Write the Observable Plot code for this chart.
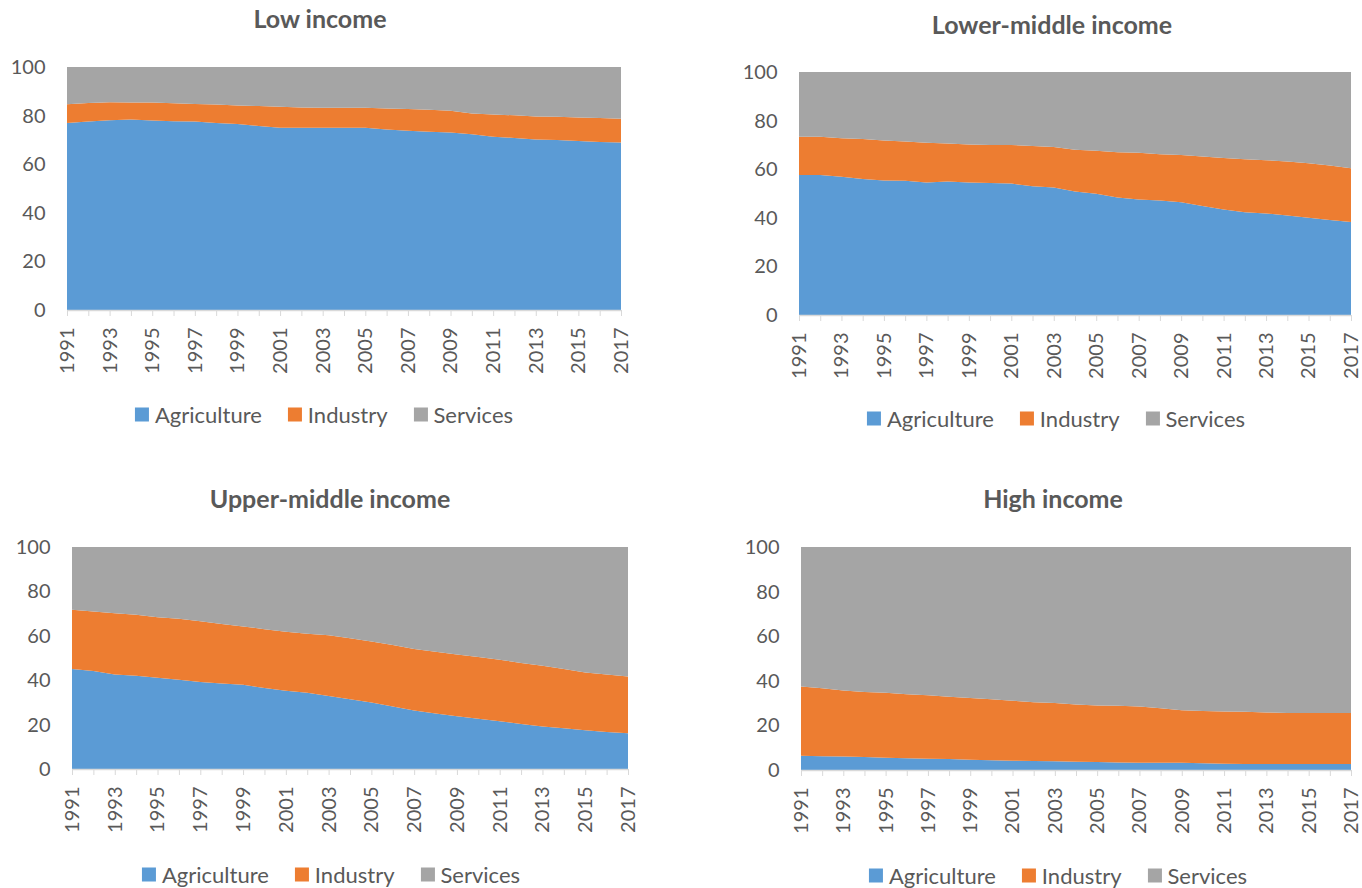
<!DOCTYPE html>
<html>
<head>
<meta charset="utf-8">
<script src="https://cdn.jsdelivr.net/npm/d3@7"></script>
<script src="https://cdn.jsdelivr.net/npm/@observablehq/plot@0.6"></script>
<style>
  html, body { margin: 0; padding: 0; background: #fff; }
  #page { position: relative; width: 1362px; height: 888px; overflow: hidden; font-family: Lato, "Open Sans", sans-serif; color: #595959; }
  .title { position: absolute; font-weight: bold; font-size: 25px; white-space: nowrap; transform: translate(-50%, -50%); }
  .legend { position: absolute; display: flex; align-items: center; gap: 26px; font-size: 22px; white-space: nowrap; transform: translate(-50%, -50%); }
  .legend .item { display: flex; align-items: center; gap: 6px; }
  .legend .sw { width: 14px; height: 14px; display: inline-block; }
  .panel { position: absolute; }
</style>
</head>
<body>
<div id="page"></div>
<script>
const years = d3.range(1991, 2018);
const labelYears = years.filter(y => (y - 1991) % 2 === 0);
const sectors = ["Agriculture", "Industry", "Services"];
const sectorColors = ["#5B9BD5", "#ED7D31", "#A5A5A5"];

const lowAgriculture = [77.0, 77.6, 78.1, 78.4, 78.0, 77.7, 77.6, 77.0, 76.5, 75.7, 75.0, 75.0, 75.0, 75.0, 75.0, 74.3, 73.8, 73.4, 73.0, 72.3, 71.3, 70.8, 70.2, 70.0, 69.5, 69.1, 68.9];
const lowIndustry = [7.7, 7.6, 7.4, 7.0, 7.4, 7.4, 7.2, 7.6, 7.7, 8.2, 8.6, 8.3, 8.2, 8.2, 8.2, 8.6, 8.9, 9.0, 9.0, 8.6, 9.2, 9.3, 9.4, 9.5, 9.7, 9.9, 9.8];
const lowServices = [15.3, 14.8, 14.5, 14.6, 14.6, 14.9, 15.2, 15.4, 15.8, 16.1, 16.4, 16.7, 16.8, 16.8, 16.8, 17.1, 17.3, 17.6, 18.0, 19.1, 19.5, 19.9, 20.4, 20.5, 20.8, 21.0, 21.3];

const lowerMidAgriculture = [57.6, 57.6, 56.9, 56.0, 55.4, 55.2, 54.5, 54.9, 54.5, 54.3, 54.1, 53.0, 52.5, 50.8, 49.9, 48.4, 47.5, 47.1, 46.4, 44.9, 43.4, 42.3, 41.8, 40.9, 40.0, 39.1, 38.3];
const lowerMidIndustry = [15.8, 15.8, 15.8, 16.4, 16.4, 16.2, 16.4, 15.7, 15.7, 15.7, 15.9, 16.5, 16.6, 17.2, 17.7, 18.6, 19.3, 19.1, 19.4, 20.3, 21.2, 21.8, 21.9, 22.3, 22.4, 22.4, 22.1];
const lowerMidServices = [26.6, 26.6, 27.3, 27.6, 28.2, 28.6, 29.1, 29.4, 29.8, 30.0, 30.0, 30.5, 30.9, 32.0, 32.4, 33.0, 33.2, 33.8, 34.2, 34.8, 35.4, 35.9, 36.3, 36.8, 37.6, 38.5, 39.6];

const upperMidAgriculture = [45.1, 44.1, 42.6, 42.0, 41.1, 40.2, 39.2, 38.5, 37.9, 36.5, 35.3, 34.3, 32.9, 31.4, 29.9, 28.1, 26.3, 25.0, 23.8, 22.6, 21.5, 20.3, 19.2, 18.3, 17.4, 16.7, 16.1];
const upperMidIndustry = [26.6, 26.9, 27.6, 27.5, 27.3, 27.5, 27.4, 26.8, 26.3, 26.5, 26.5, 26.6, 27.3, 27.5, 27.5, 27.7, 27.7, 27.8, 27.8, 27.8, 27.7, 27.5, 27.3, 26.7, 26.1, 25.9, 25.6];
const upperMidServices = [28.3, 29.0, 29.8, 30.5, 31.6, 32.3, 33.4, 34.7, 35.8, 37.0, 38.2, 39.1, 39.8, 41.1, 42.6, 44.2, 46.0, 47.2, 48.4, 49.6, 50.8, 52.2, 53.5, 55.0, 56.5, 57.4, 58.3];

const highAgriculture = [6.4, 6.2, 6.1, 5.8, 5.5, 5.3, 5.1, 4.9, 4.6, 4.4, 4.2, 4.0, 3.9, 3.7, 3.6, 3.4, 3.3, 3.3, 3.3, 3.0, 2.8, 2.7, 2.7, 2.7, 2.7, 2.7, 2.7];
const highIndustry = [31.0, 30.5, 29.5, 29.2, 29.1, 28.7, 28.4, 28.0, 27.7, 27.3, 26.9, 26.4, 26.1, 25.7, 25.3, 25.4, 25.2, 24.4, 23.5, 23.5, 23.4, 23.4, 23.1, 22.9, 22.9, 22.9, 22.9];
const highServices = [62.6, 63.3, 64.4, 65.0, 65.4, 66.0, 66.5, 67.1, 67.7, 68.3, 68.9, 69.6, 70.0, 70.6, 71.1, 71.2, 71.5, 72.3, 73.2, 73.5, 73.8, 73.9, 74.2, 74.4, 74.4, 74.4, 74.4];

const yTicks = [0, 20, 40, 60, 80, 100];

// layout (plot-area edges in page pixels)
const panels = [
  {title: "Low income", series: [lowAgriculture, lowIndustry, lowServices],
   left: 0, width: 680, x0: 67, x1: 621, y0: 67, y1: 310, tx: 320, ty: 18, lx: 324, ly: 414},
  {title: "Lower-middle income", series: [lowerMidAgriculture, lowerMidIndustry, lowerMidServices],
   left: 680, width: 682, x0: 799, x1: 1351, y0: 72, y1: 315, tx: 1052, ty: 24, lx: 1056, ly: 418},
  {title: "Upper-middle income", series: [upperMidAgriculture, upperMidIndustry, upperMidServices],
   left: 0, width: 680, x0: 72, x1: 628, y0: 547, y1: 769, tx: 330, ty: 498, lx: 331, ly: 874},
  {title: "High income", series: [highAgriculture, highIndustry, highServices],
   left: 680, width: 682, x0: 801, x1: 1351, y0: 547, y1: 770, tx: 1053, ty: 498, lx: 1058, ly: 875}
];

const page = document.getElementById("page");

for (const p of panels) {
  const data = [];
  years.forEach((yr, i) => {
    sectors.forEach((s, k) => data.push({year: yr, sector: s, value: p.series[k][i]}));
  });
  const marginTop = 15, marginBottom = 80;
  const svgTop = p.y0 - marginTop;
  const plot = Plot.plot({
    width: p.width,
    height: (p.y1 - p.y0) + marginTop + marginBottom,
    marginLeft: p.x0 - p.left,
    marginRight: p.left + p.width - p.x1,
    marginTop, marginBottom,
    style: {fontFamily: "Lato, 'Open Sans', sans-serif", fontSize: "20px", color: "#595959", background: "transparent", overflow: "visible"},
    x: {domain: [1991, 2017], label: null},
    y: {domain: [0, 100], label: null},
    color: {domain: sectors, range: sectorColors},
    marks: [
      Plot.areaY(data, {x: "year", y: "value", fill: "sector"}),
      Plot.ruleY([0], {stroke: "#d9d9d9", strokeWidth: 1.5}),
      Plot.axisY({ticks: yTicks, tickSize: 0, tickPadding: 22, label: null, fill: "#595959", fontSize: 20}),
      Plot.axisX({ticks: years, tickSize: 6, tickFormat: () => "", stroke: "#d9d9d9", label: null}),
      Plot.axisX({ticks: labelYears, tickSize: 0, tickPadding: 17, tickRotate: -90, tickFormat: d => String(d), label: null, fill: "#595959", fontSize: 20})
    ]
  });
  const wrap = document.createElement("div");
  wrap.className = "panel";
  wrap.style.left = p.left + "px";
  wrap.style.top = svgTop + "px";
  wrap.appendChild(plot);
  page.appendChild(wrap);

  const t = document.createElement("div");
  t.className = "title";
  t.style.left = p.tx + "px";
  t.style.top = p.ty + "px";
  t.textContent = p.title;
  page.appendChild(t);

  const lg = document.createElement("div");
  lg.className = "legend";
  lg.style.left = p.lx + "px";
  lg.style.top = p.ly + "px";
  sectors.forEach((s, k) => {
    const it = document.createElement("span");
    it.className = "item";
    const sw = document.createElement("span");
    sw.className = "sw";
    sw.style.background = sectorColors[k];
    const tx = document.createElement("span");
    tx.textContent = s;
    it.appendChild(sw); it.appendChild(tx);
    lg.appendChild(it);
  });
  page.appendChild(lg);
}
</script>
</body>
</html>
